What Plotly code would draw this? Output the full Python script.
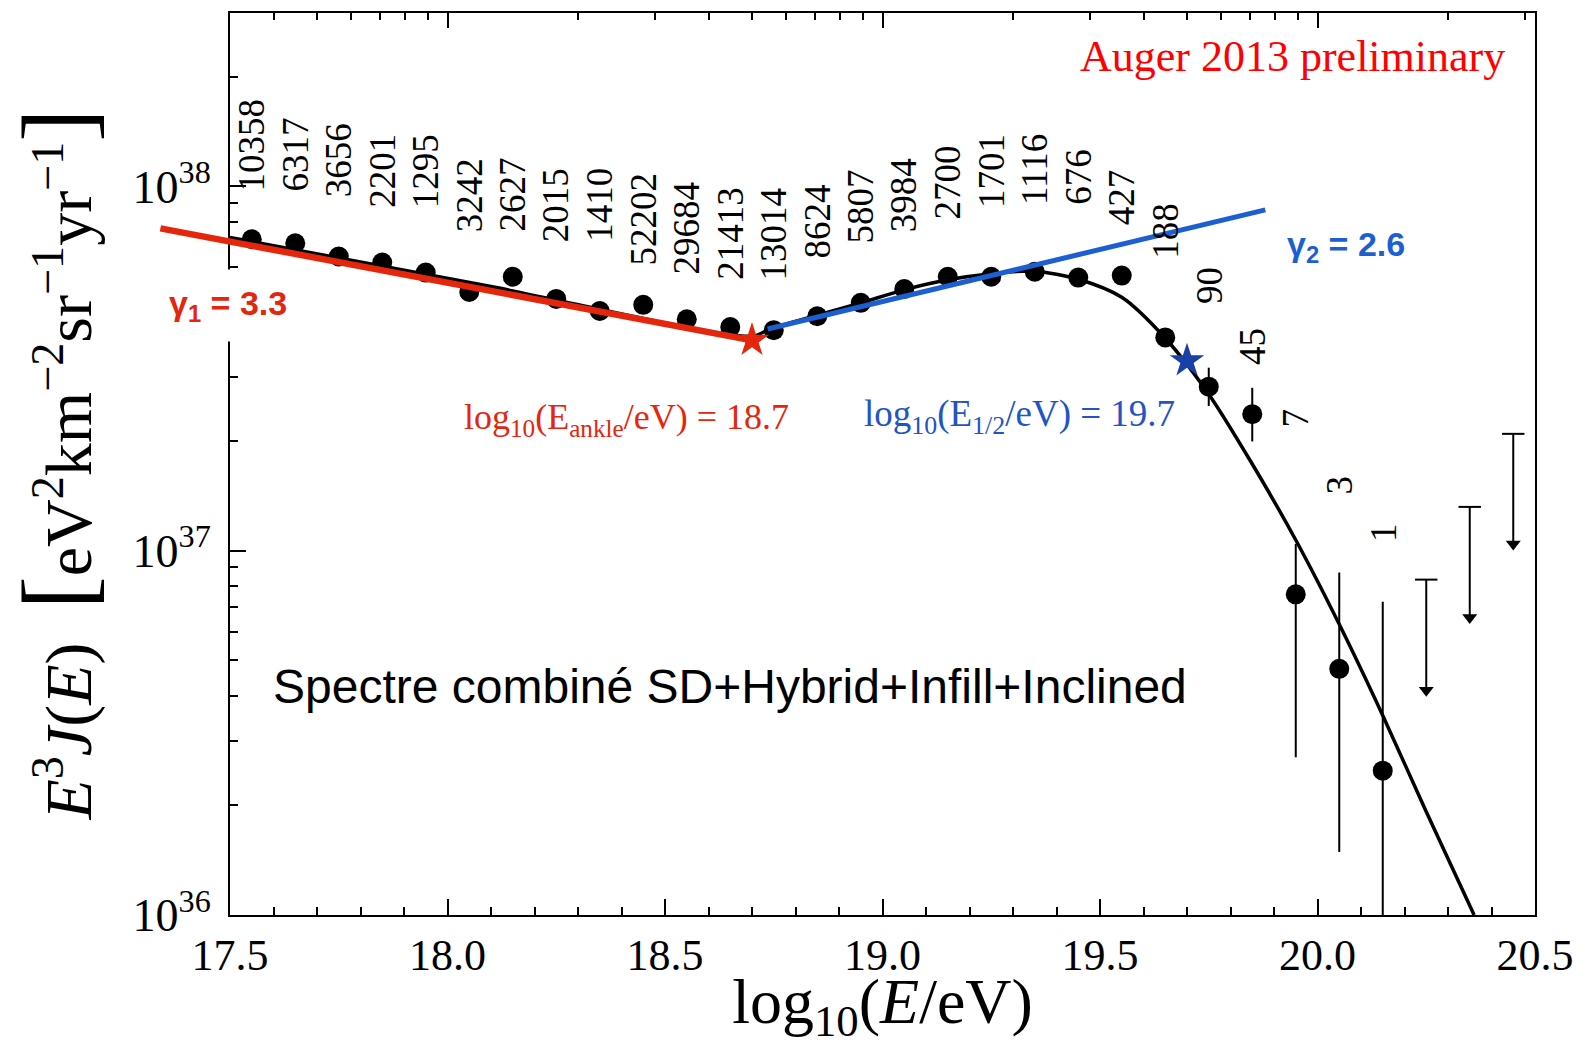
import plotly.graph_objects as go
import math

# ---------------- data ----------------
energy_bins = [17.55, 17.65, 17.75, 17.85, 17.95, 18.05, 18.15, 18.25, 18.35,
               18.45, 18.55, 18.65, 18.75, 18.85, 18.95, 19.05, 19.15, 19.25,
               19.35, 19.45, 19.55, 19.65, 19.75, 19.85, 19.95, 20.05, 20.15]
flux = [7.16e37, 6.98e37, 6.42e37, 6.18e37, 5.80e37, 5.13e37, 5.65e37, 4.91e37,
        4.55e37, 4.73e37, 4.32e37, 4.11e37, 4.03e37, 4.40e37, 4.79e37, 5.23e37,
        5.65e37, 5.65e37, 5.83e37, 5.62e37, 5.69e37, 3.85e37, 2.82e37, 2.37e37,
        7.59e36, 4.74e36, 2.49e36]
flux_upper = [None] * 22 + [3.18e37, 2.80e37, 1.044e37, 8.71e36, 7.24e36]
flux_lower = [None] * 22 + [2.495e37, 1.995e37, 2.71e36, 1.49e36, 1.0e36]
event_counts = ["10358", "6317", "3656", "2201", "1295", "3242", "2627", "2015",
                "1410", "52202", "29684", "21413", "13014", "8624", "5807",
                "3984", "2700", "1701", "1116", "676", "427", "188", "90", "45",
                "7", "3", "1"]

limit_bins = [20.25, 20.35, 20.45]
limit_top = [8.33e36, 1.319e37, 2.093e37]
limit_tip = [4.14e36, 6.56e36, 1.044e37]

fit_x = [17.50, 18.10, 18.70, 18.74, 18.85, 18.95, 19.05, 19.15, 19.25, 19.35,
         19.45, 19.55, 19.65, 19.75, 19.85, 19.95, 20.05, 20.15, 20.25, 20.36]
fit_y = [7.24e37, 5.31e37, 3.88e37, 4.05e37, 4.43e37, 4.79e37, 5.20e37, 5.54e37,
         5.76e37, 5.85e37, 5.56e37, 4.96e37, 3.83e37, 2.69e37, 1.73e37, 1.07e37,
         6.28e36, 3.53e36, 1.92e36, 1.0e36]

gamma1_x = [17.34, 18.70]
gamma1_y = [7.67e37, 3.78e37]
gamma2_x = [18.736, 19.88]
gamma2_y = [4.06e37, 8.62e37]

ankle_x, ankle_y = [18.70], [3.78e37]
half_x, half_y = [19.70], [3.32e37]

x_ticks = [17.5, 18.0, 18.5, 19.0, 19.5, 20.0, 20.5]
y_ticks = [1e36, 1e37, 1e38]
y_tick_text = ["10<sup>36</sup>", "10<sup>37</sup>", "10<sup>38</sup>"]

# ---------------- layout / style ----------------
W, H = 1584, 1046
ML, MR, MT, MB = 100, 49, 13, 131
plot_w = W - ML - MR
axis_left = 130                      # main axis offset inside paper (px)
d0 = axis_left / plot_w
x_lo, x_hi = 17.5, 20.5
px_per_unit = plot_w * (1 - d0) / (x_hi - x_lo)
x2_lo = x_lo - axis_left / px_per_unit
y_lo, y_hi = 36.0, 38.476

SERIF = "Liberation Serif"
SANS = "Liberation Sans"
RED = "#e4260c"
BLUE = "#1c5fd0"

# count-label offsets above each point (pixels)
label_shift = [46, 50, 57, 53, 62, 58, 43, 55, 67, 37, 43, 45, 48, 56, 57, 55,
               55, 67, 65, 71, 48, 77, 81, 47, 165, 172, 227]

fig = go.Figure()

err_plus = [0 if u is None else u - f for u, f in zip(flux_upper, flux)]
err_minus = [0 if l is None else f - l for l, f in zip(flux_lower, flux)]

fig.add_trace(go.Scatter(
    x=energy_bins, y=flux, mode="markers",
    marker=dict(color="black", size=20),
    error_y=dict(type="data", symmetric=False, array=err_plus,
                 arrayminus=err_minus, width=0, thickness=2, color="black"),
    showlegend=False))

# upper limits
for xv, top, tip in zip(limit_bins, limit_top, limit_tip):
    fig.add_trace(go.Scatter(x=[xv, xv], y=[top, tip], mode="lines",
                             line=dict(color="black", width=2), showlegend=False))
fig.add_trace(go.Scatter(x=limit_bins, y=limit_top, mode="markers",
                         marker=dict(symbol="line-ew", size=16,
                                     line=dict(color="black", width=2)),
                         showlegend=False))
fig.add_trace(go.Scatter(x=limit_bins, y=limit_tip, mode="markers",
                         marker=dict(symbol="triangle-down", size=13, color="black"),
                         showlegend=False))

# fit curve
fig.add_trace(go.Scatter(x=fit_x, y=fit_y, mode="lines",
                         line=dict(color="black", width=3.5, shape="spline",
                                   smoothing=0.8),
                         showlegend=False))
# gamma1 line (on a wider, hidden x axis so it may extend left of the frame)
fig.add_trace(go.Scatter(x=gamma1_x, y=gamma1_y, mode="lines", xaxis="x2",
                         line=dict(color=RED, width=6.5), showlegend=False))
fig.add_trace(go.Scatter(x=gamma2_x, y=gamma2_y, mode="lines",
                         line=dict(color=BLUE, width=5), showlegend=False))
fig.add_trace(go.Scatter(x=ankle_x, y=ankle_y, mode="markers",
                         marker=dict(symbol="star", size=26, color=RED),
                         showlegend=False, cliponaxis=False))
fig.add_trace(go.Scatter(x=half_x, y=half_y, mode="markers",
                         marker=dict(symbol="star", size=26, color="#1a3fa6"),
                         showlegend=False, cliponaxis=False))

annotations = []
for xv, yv, txt, sh in zip(energy_bins, flux, event_counts, label_shift):
    annotations.append(dict(x=xv, y=math.log10(yv), xref="x", yref="y",
                            text=txt, textangle=-90, showarrow=False,
                            xanchor="center", yanchor="bottom", yshift=sh,
                            font=dict(family=SERIF, size=37, color="black")))

annotations += [
    dict(x=0.9785, y=0.952, xref="x domain", yref="y domain", xanchor="right",
         yanchor="middle", showarrow=False, text="Auger 2013 preliminary",
         font=dict(family=SERIF, size=44, color="#ff0000")),
    dict(x=-0.058, y=0.676, xref="x domain", yref="y domain", xanchor="left",
         yanchor="middle", showarrow=False,
         text="<b>γ<sub>1</sub> = 3.3</b>", bgcolor="white", borderpad=14,
         font=dict(family=SANS, size=34, color=RED)),
    dict(x=0.8084, y=0.7406, xref="x domain", yref="y domain", xanchor="left",
         yanchor="middle", showarrow=False,
         text="<b>γ<sub>2</sub> = 2.6</b>",
         font=dict(family=SANS, size=34, color=BLUE)),
    dict(x=0.1775, y=0.549, xref="x domain", yref="y domain", xanchor="left",
         yanchor="middle", showarrow=False,
         text="log<sub>10</sub>(E<sub>ankle</sub>/eV) = 18.7",
         font=dict(family=SERIF, size=36, color=RED)),
    dict(x=0.484, y=0.553, xref="x domain", yref="y domain", xanchor="left",
         yanchor="middle", showarrow=False,
         text="log<sub>10</sub>(E<sub>1/2</sub>/eV) = 19.7",
         font=dict(family=SERIF, size=37, color="#2154c4")),
    dict(x=0.0314, y=0.2528, xref="x domain", yref="y domain", xanchor="left",
         yanchor="middle", showarrow=False,
         text="Spectre combiné SD+Hybrid+Infill+Inclined",
         font=dict(family=SANS, size=48, color="black")),
]

# top axis: energy in eV, log-spaced ticks
top_major = [18.0, 19.0, 20.0]
top_minor = [n + math.log10(k) for n in (17, 18, 19, 20) for k in range(2, 10)
             if x_lo <= n + math.log10(k) <= x_hi]
y_minor = [k * 10.0 ** n for n in (36, 37, 38) for k in range(2, 10)]

fig.update_layout(
    width=W, height=H,
    margin=dict(l=ML, r=MR, t=MT, b=MB, autoexpand=False),
    paper_bgcolor="white", plot_bgcolor="rgba(0,0,0,0)",
    annotations=annotations,
    xaxis=dict(
        domain=[d0, 1], range=[x_lo, x_hi], tickmode="array", tickvals=x_ticks,
        ticktext=[f"{v:.1f}" for v in x_ticks], ticks="inside", ticklen=16,
        tickwidth=2, tickcolor="black", showline=True, linecolor="black",
        linewidth=2, mirror=True, showgrid=False, zeroline=False,
        ticklabelstandoff=0,
        tickfont=dict(family=SERIF, size=44, color="black"),
        minor=dict(dtick=0.1, ticks="inside", ticklen=8, tickwidth=1.5,
                   tickcolor="black", showgrid=False),
        title=dict(text="log<sub>10</sub>(<i>E</i>/eV)", standoff=10,
                   font=dict(family=SERIF, size=64, color="black")),
        automargin=False,
    ),
    xaxis2=dict(domain=[0, 1], range=[x2_lo, x_hi], anchor="y",
                visible=False, showgrid=False, zeroline=False),
    xaxis3=dict(domain=[d0, 1], range=[x_lo, x_hi], overlaying="x", side="top",
                anchor="y", tickmode="array", tickvals=top_major, ticks="inside",
                ticklen=15, tickwidth=1.5, tickcolor="black",
                showticklabels=False, showline=False, showgrid=False,
                zeroline=False,
                minor=dict(tickmode="array", tickvals=top_minor, ticks="inside",
                           ticklen=7, tickwidth=1.5, tickcolor="black",
                           showgrid=False)),
    yaxis=dict(
        type="log", range=[y_lo, y_hi], tickmode="array", tickvals=y_ticks,
        ticktext=y_tick_text, ticks="inside", ticklen=16, tickwidth=2,
        tickcolor="black", showline=True, linecolor="black", linewidth=2,
        mirror=True, showgrid=False, zeroline=False, ticklabelstandoff=8,
        tickfont=dict(family=SERIF, size=46, color="black"),
        minor=dict(tickmode="array", tickvals=y_minor, ticks="inside",
                   ticklen=8, tickwidth=1.5, tickcolor="black", showgrid=False),
        title=dict(
            text=("<i>E</i><sup>3</sup><i>J</i>(<i>E</i>)  "
                  "<span style='font-size:100px'>[</span>"
                  "eV<sup>2</sup>km<sup>−2</sup>sr<sup>−1</sup>yr<sup>−1</sup>"
                  "<span style='font-size:100px'>]</span>"),
            standoff=20, font=dict(family=SERIF, size=66, color="black")),
        automargin=False,
    ),
)

# invisible trace so the top (energy) axis is drawn
fig.add_trace(go.Scatter(x=[x_lo], y=[1e37], xaxis="x3", mode="markers",
                         marker=dict(opacity=0), showlegend=False,
                         hoverinfo="skip"))

fig.write_html("out.html")
